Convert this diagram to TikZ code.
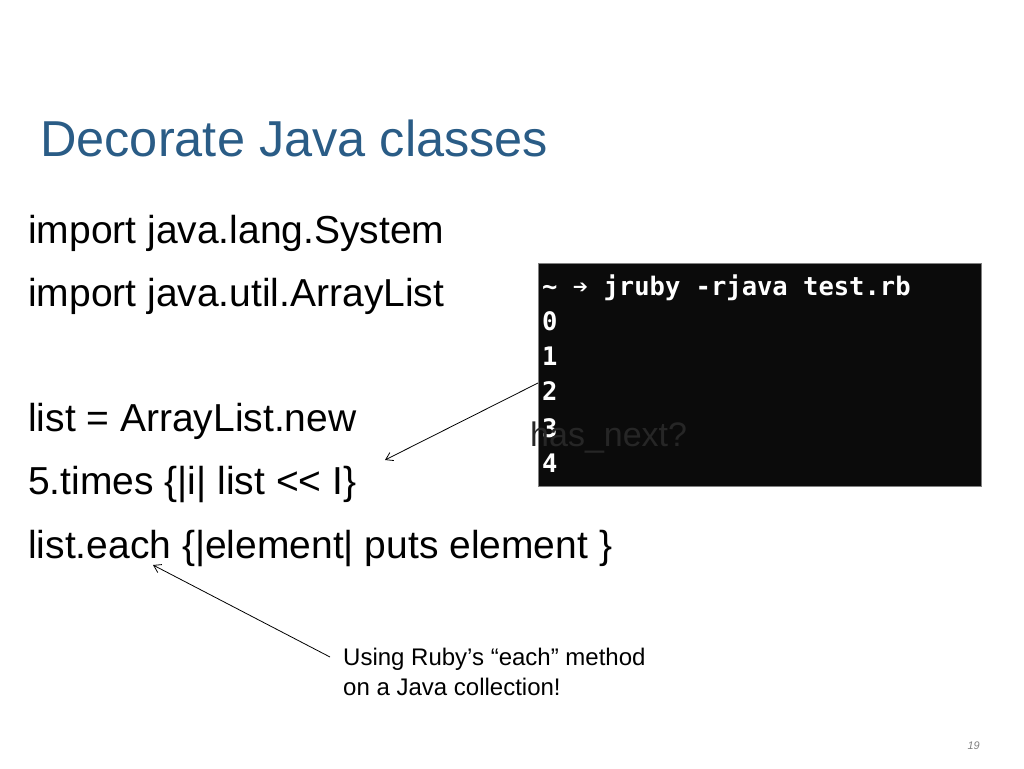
\documentclass[tikz,border=0pt]{standalone}
\usetikzlibrary{arrows.meta}
\usepackage{fontspec}
\setmainfont{Liberation Sans}
\newfontfamily\termfont{DejaVu Sans Mono}
\definecolor{titleblue}{HTML}{2A5C86}
\definecolor{termbg}{HTML}{0B0B0B}
\begin{document}
\begin{tikzpicture}[x=1pt,y=-1pt,
  body/.style={anchor=base west,inner sep=0,font=\fontsize{39}{44}\selectfont},
  term/.style={anchor=base west,inner sep=0,text=white,font=\termfont\bfseries\fontsize{25.5}{30}\selectfont},
  conn/.style={-{Straight Barb[length=7pt,width=9pt]},line width=0.8pt}]
\useasboundingbox (0,0) rectangle (1024,768);
\node[anchor=base west,inner sep=0,text=titleblue,font=\fontsize{50.5}{56}\selectfont] (title) at (40,156) {Decorate Java classes};
\node[body] (l1) at (28,243) {import java.lang.System};
\node[body] (l2) at (28,306) {import java.util.ArrayList};
\node[body] (l3) at (28,431) {list = ArrayList.new};
\node[body] (l4) at (28,494) {5.times \{|i| list {\char"003C}{\char"003C} I\}};
\node[body] (l5) at (28,558) {list.each \{|element| puts element \}};
\node[fill=termbg,draw=gray,minimum width=443,minimum height=223,anchor=north west,inner sep=0] (term) at (538,263) {};
\node[term] (t0) at (542,295) {\~{} \char"2794\ jruby -rjava test.rb};
\node[term] (t1) at (542,330) {0};
\node[term] (t2) at (542,365) {1};
\node[term] (t3) at (542,400) {2};
\node[term] (t4) at (542,437) {3};
\node[term] (t5) at (542,472) {4};
\node[anchor=base west,inner sep=0,text=black!85,font=\fontsize{34}{40}\selectfont] (hn) at (530,446) {has\_next?};
\coordinate (a1) at (538,383);
\coordinate (b1) at (385,460);
\draw[conn] (a1) -- (b1);
\node[anchor=north west,inner sep=0,align=left,font=\fontsize{24}{30}\selectfont] (note) at (343,648) {Using Ruby\char"0027 s “each” method\\on a Java collection!};
\coordinate (a2) at (330,657);
\coordinate (b2) at (153,565);
\draw[conn] (a2) -- (b2);
\node[anchor=base east,inner sep=0,text=gray,font=\itshape\fontsize{11}{13}\selectfont] (pg) at (980,749) {19};
\end{tikzpicture}
\end{document}
